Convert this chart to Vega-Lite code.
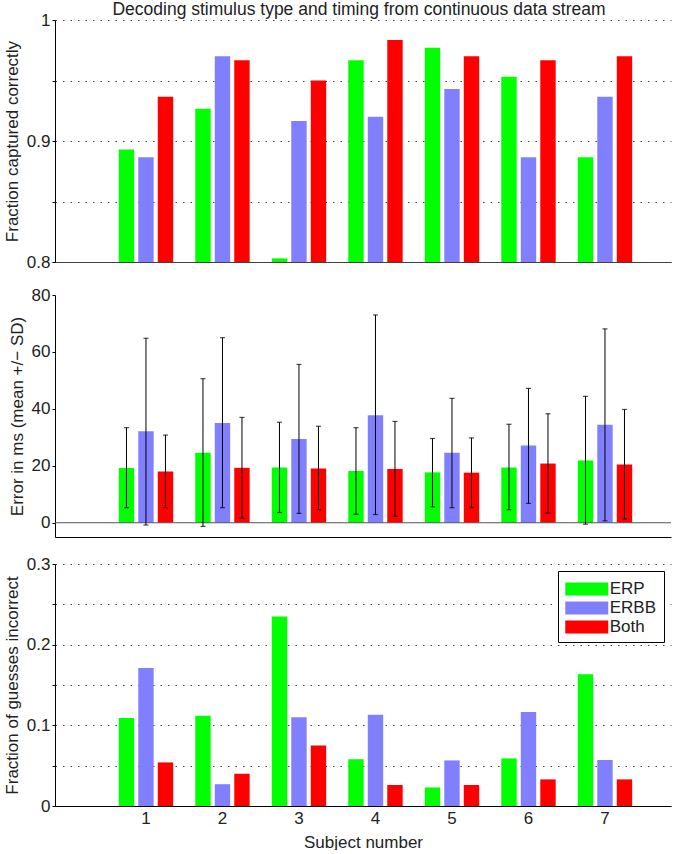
{
  "$schema": "https://vega.github.io/schema/vega-lite/v6.json",
  "padding": {"left": 3, "top": 0, "right": 0, "bottom": 0},
  "datasets": {
    "d": [
      {"subject": 1, "method": "ERP", "acc": 0.893, "err": 19.2, "lo": 5.3, "hi": 33.4, "inc": 0.109},
      {"subject": 1, "method": "ERBB", "acc": 0.8865, "err": 32.1, "lo": -0.8, "hi": 64.8, "inc": 0.171},
      {"subject": 1, "method": "Both", "acc": 0.9366, "err": 18.0, "lo": 5.3, "hi": 30.8, "inc": 0.054},
      {"subject": 2, "method": "ERP", "acc": 0.9267, "err": 24.6, "lo": -1.3, "hi": 50.6, "inc": 0.112},
      {"subject": 2, "method": "ERBB", "acc": 0.97, "err": 35.0, "lo": 5.3, "hi": 65.0, "inc": 0.027},
      {"subject": 2, "method": "Both", "acc": 0.9667, "err": 19.3, "lo": 1.6, "hi": 37.0, "inc": 0.04},
      {"subject": 3, "method": "ERP", "acc": 0.803, "err": 19.4, "lo": 3.6, "hi": 35.3, "inc": 0.235},
      {"subject": 3, "method": "ERBB", "acc": 0.9165, "err": 29.4, "lo": 3.3, "hi": 55.6, "inc": 0.11},
      {"subject": 3, "method": "Both", "acc": 0.95, "err": 19.1, "lo": 4.6, "hi": 33.9, "inc": 0.075},
      {"subject": 4, "method": "ERP", "acc": 0.9667, "err": 18.2, "lo": 3.0, "hi": 33.4, "inc": 0.058},
      {"subject": 4, "method": "ERBB", "acc": 0.92, "err": 37.8, "lo": 2.9, "hi": 73.0, "inc": 0.113},
      {"subject": 4, "method": "Both", "acc": 0.9835, "err": 18.9, "lo": 2.3, "hi": 35.6, "inc": 0.026},
      {"subject": 5, "method": "ERP", "acc": 0.977, "err": 17.7, "lo": 5.6, "hi": 29.6, "inc": 0.023},
      {"subject": 5, "method": "ERBB", "acc": 0.943, "err": 24.6, "lo": 5.3, "hi": 43.7, "inc": 0.0565},
      {"subject": 5, "method": "Both", "acc": 0.97, "err": 17.6, "lo": 5.3, "hi": 29.8, "inc": 0.026},
      {"subject": 6, "method": "ERP", "acc": 0.953, "err": 19.4, "lo": 4.6, "hi": 34.6, "inc": 0.059},
      {"subject": 6, "method": "ERBB", "acc": 0.8865, "err": 27.1, "lo": 6.8, "hi": 47.2, "inc": 0.1164},
      {"subject": 6, "method": "Both", "acc": 0.9667, "err": 20.8, "lo": 3.4, "hi": 38.3, "inc": 0.033},
      {"subject": 7, "method": "ERP", "acc": 0.8865, "err": 21.9, "lo": -0.5, "hi": 44.4, "inc": 0.1634},
      {"subject": 7, "method": "ERBB", "acc": 0.9366, "err": 34.4, "lo": 0.7, "hi": 68.1, "inc": 0.057},
      {"subject": 7, "method": "Both", "acc": 0.97, "err": 20.5, "lo": 1.3, "hi": 39.8, "inc": 0.033}
    ]
  },
  "config": {
    "view": {"stroke": null},
    "font": "Liberation Sans",
    "axis": {
      "labelFont": "Liberation Sans",
      "titleFont": "Liberation Sans",
      "labelFontSize": 17,
      "titleFontSize": 17,
      "titleFontWeight": "normal",
      "labelColor": "#222222",
      "titleColor": "#222222",
      "domainColor": "#000000",
      "tickColor": "#000000",
      "labelFlush": false,
      "labelOverlap": false
    },
    "axisY": {
      "tickSize": 3,
      "labelPadding": 2,
      "gridColor": "#444444",
      "gridDash": [1.5, 6],
      "gridWidth": 1,
      "titlePadding": 5
    },
    "legend": {
      "labelFont": "Liberation Sans",
      "labelFontSize": 17,
      "labelColor": "#222222"
    }
  },
  "resolve": {"scale": {"color": "independent"}, "legend": {"color": "independent"}},
  "spacing": 33,
  "bounds": "flush",
  "vconcat": [
    {
      "title": {"text": "Decoding stimulus type and timing from continuous data stream", "fontSize": 17.5, "fontWeight": "normal", "font": "Liberation Sans", "color": "#222222", "anchor": "middle", "offset": -7, "dx": -4},
      "width": 616,
      "height": 242,
      "data": {"name": "d"},
      "mark": {"type": "bar", "clip": true},
      "encoding": {
        "x": {"field": "subject", "type": "ordinal",
              "scale": {"paddingInner": 0, "paddingOuter": 0.526, "align": 0.655},
              "axis": {"labels": false, "ticks": false, "title": null, "domainColor": "#404040"}},
        "xOffset": {"field": "method", "type": "nominal", "sort": ["ERP", "ERBB", "Both"],
                    "scale": {"paddingInner": 0.21, "paddingOuter": 0.567}},
        "y": {"field": "acc", "type": "quantitative",
              "scale": {"domain": [0.8, 1], "zero": false, "nice": false},
              "axis": {"values": [0.8, 0.85, 0.9, 0.95, 1], "grid": true,
                       "labelExpr": "datum.value == 0.85 || datum.value == 0.95 ? '' : format(datum.value, '~g')",
                       "title": "Fraction captured correctly"}},
        "y2": {"datum": 0.8},
        "color": {"field": "method", "type": "nominal",
                  "scale": {"domain": ["ERP", "ERBB", "Both"], "range": ["#00ff00", "#8080ff", "#ff0000"]},
                  "legend": null}
      }
    },
    {
      "spacing": 27,
      "bounds": "flush",
      "resolve": {"scale": {"color": "independent"}, "legend": {"color": "independent"}},
      "vconcat": [
        {
          "width": 616,
          "height": 242,
          "layer": [
            {
              "data": {"name": "d"},
              "mark": {"type": "bar"},
              "encoding": {
                "x": {"field": "subject", "type": "ordinal",
                      "scale": {"paddingInner": 0, "paddingOuter": 0.526, "align": 0.655},
                      "axis": {"labels": false, "ticks": false, "title": null}},
                "xOffset": {"field": "method", "type": "nominal", "sort": ["ERP", "ERBB", "Both"],
                            "scale": {"paddingInner": 0.21, "paddingOuter": 0.567}},
                "y": {"field": "err", "type": "quantitative",
                      "scale": {"domain": [-5, 80], "nice": false},
                      "axis": {"values": [0, 10, 20, 30, 40, 50, 60, 70, 80], "grid": false,
                               "labelExpr": "datum.value % 20 == 0 ? datum.value : ''",
                               "title": "Error in ms (mean +/− SD)"}},
                "y2": {"datum": 0},
                "color": {"field": "method", "type": "nominal",
                          "scale": {"domain": ["ERP", "ERBB", "Both"], "range": ["#00ff00", "#8080ff", "#ff0000"]},
                          "legend": null}
              }
            },
            {
              "data": {"values": [{}]},
              "mark": {"type": "rule", "color": "#555555", "strokeWidth": 1},
              "encoding": {"y": {"datum": 0}}
            },
            {
              "data": {"name": "d"},
              "mark": {"type": "rule", "color": "#000000", "strokeWidth": 1},
              "encoding": {
                "x": {"field": "subject", "type": "ordinal"},
                "xOffset": {"field": "method", "type": "nominal", "sort": ["ERP", "ERBB", "Both"]},
                "y": {"field": "lo", "type": "quantitative"},
                "y2": {"field": "hi"}
              }
            },
            {
              "data": {"name": "d"},
              "mark": {"type": "tick", "color": "#000000", "size": 5, "thickness": 1.2, "orient": "horizontal"},
              "encoding": {
                "x": {"field": "subject", "type": "ordinal"},
                "xOffset": {"field": "method", "type": "nominal", "sort": ["ERP", "ERBB", "Both"]},
                "y": {"field": "lo", "type": "quantitative"}
              }
            },
            {
              "data": {"name": "d"},
              "mark": {"type": "tick", "color": "#000000", "size": 5, "thickness": 1.2, "orient": "horizontal"},
              "encoding": {
                "x": {"field": "subject", "type": "ordinal"},
                "xOffset": {"field": "method", "type": "nominal", "sort": ["ERP", "ERBB", "Both"]},
                "y": {"field": "hi", "type": "quantitative"}
              }
            }
          ]
        },
        {
          "width": 616,
          "height": 242,
          "data": {"name": "d"},
          "mark": {"type": "bar"},
          "encoding": {
            "x": {"field": "subject", "type": "ordinal",
                  "scale": {"paddingInner": 0, "paddingOuter": 0.526, "align": 0.655},
                  "axis": {"ticks": false, "labelAngle": 0, "labelPadding": 4, "title": "Subject number", "titlePadding": 8}},
            "xOffset": {"field": "method", "type": "nominal", "sort": ["ERP", "ERBB", "Both"],
                        "scale": {"paddingInner": 0.21, "paddingOuter": 0.567}},
            "y": {"field": "inc", "type": "quantitative",
                  "scale": {"domain": [0, 0.3], "nice": false},
                  "axis": {"values": [0, 0.05, 0.1, 0.15, 0.2, 0.25, 0.3], "grid": true,
                           "labelExpr": "indexof([0, 0.1, 0.2, 0.3], datum.value) >= 0 ? format(datum.value, '~g') : ''",
                           "title": "Fraction of guesses incorrect"}},
            "color": {"field": "method", "type": "nominal",
                      "scale": {"domain": ["ERP", "ERBB", "Both"], "range": ["#00ff00", "#8080ff", "#ff0000"]},
                      "legend": {"title": null, "orient": "none", "legendX": 503, "legendY": 7,
                                 "strokeColor": "#000000", "fillColor": "#ffffff", "padding": 7,
                                 "symbolType": "M-2,-0.6H2V0.6H-2Z", "symbolSize": 462,
                                 "symbolOffset": 10.75,
                                 "symbolStrokeWidth": 0, "symbolOpacity": 1, "labelOffset": 12,
                                 "rowPadding": 0, "symbolLimit": 3}}
          }
        }
      ]
    }
  ]
}
